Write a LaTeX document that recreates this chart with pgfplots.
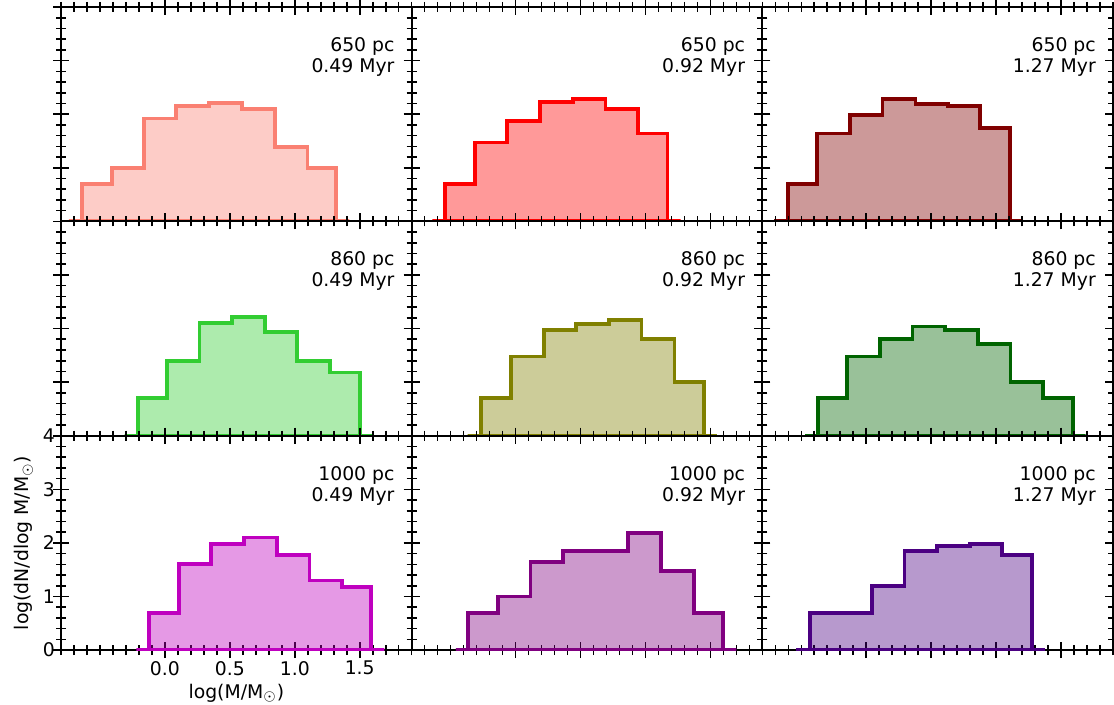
\documentclass[border=0pt]{standalone}
\usepackage{fontspec}
\setmainfont{DejaVu Sans}
\usepackage{pgfplots}
\pgfplotsset{compat=1.18}
\usepgfplotslibrary{groupplots}
\usetikzlibrary{calc}

\definecolor{csalmon}{RGB}{250,128,114}
\definecolor{cred}{RGB}{255,0,0}
\definecolor{cdarkred}{RGB}{128,0,0}
\definecolor{clime}{RGB}{50,205,50}
\definecolor{colive}{RGB}{128,128,0}
\definecolor{cdkgreen}{RGB}{0,100,0}
\definecolor{cmag}{RGB}{191,0,191}
\definecolor{cpurple}{RGB}{128,0,128}
\definecolor{cindigo}{RGB}{75,0,130}

\pgfplotsset{
  hist/.style={const plot, draw=#1, fill=#1, fill opacity=0.4, draw opacity=1, line width=1.9pt},
}
\newcommand{\panellabel}[2]{\node[anchor=north east, align=right, inner sep=0pt] at (rel axis cs:0.952,0.86) {#1\\#2};}

\begin{document}
\begin{tikzpicture}[font=\fontsize{9.4}{10.6}\selectfont]
\begin{groupplot}[
  group style={group size=3 by 3, horizontal sep=0pt, vertical sep=0pt},
  scale only axis, width=175.3pt, height=107.17pt,
  xmin=-0.8, xmax=1.9, ymin=0, ymax=4,
  xtick={0,0.5,1,1.5}, minor xtick={-0.8,-0.7,...,1.9},
  ytick={0,1,2,3,4}, minor ytick={0,0.2,...,4},
  xticklabels={}, yticklabels={},
  xtick pos=both, ytick pos=both,
  tick align=center, major tick length=8pt, minor tick length=5pt,
  every tick/.append style={black, line width=0.8pt},
  axis line style={line width=1pt},
  xticklabel style={yshift=2pt},
  yticklabel style={xshift=4.5pt},
]
% 650 pc
\nextgroupplot
\addplot[hist=csalmon] coordinates {(-0.74,0) (-0.636,0.69) (-0.41,0.99) (-0.16,1.92) (0.087,2.16) (0.338,2.21) (0.595,2.10) (0.846,1.39) (1.098,0.99) (1.318,0) (1.42,0)} \closedcycle;
\panellabel{650 pc}{0.49 Myr}
\nextgroupplot
\addplot[hist=cred] coordinates {(-0.64,0) (-0.541,0.69) (-0.315,1.47) (-0.064,1.87) (0.187,2.23) (0.441,2.28) (0.692,2.09) (0.944,1.64) (1.169,0) (1.27,0)} \closedcycle;
\panellabel{650 pc}{0.92 Myr}
\nextgroupplot
\addplot[hist=cdarkred] coordinates {(-0.71,0) (-0.603,0.69) (-0.377,1.64) (-0.126,1.99) (0.125,2.28) (0.379,2.19) (0.628,2.16) (0.876,1.74) (1.107,0) (1.2,0)} \closedcycle;
\panellabel{650 pc}{1.27 Myr}
% 860 pc
\nextgroupplot
\addplot[hist=clime] coordinates {(-0.31,0) (-0.21,0.70) (0.015,1.39) (0.267,2.11) (0.515,2.21) (0.769,1.93) (1.02,1.39) (1.27,1.18) (1.50,0) (1.6,0)} \closedcycle;
\panellabel{860 pc}{0.49 Myr}
\nextgroupplot
\addplot[hist=colive] coordinates {(-0.37,0) (-0.264,0.70) (-0.033,1.48) (0.218,1.98) (0.467,2.09) (0.718,2.16) (0.969,1.81) (1.223,1.00) (1.449,0) (1.55,0)} \closedcycle;
\panellabel{860 pc}{0.92 Myr}
\nextgroupplot
\addplot[hist=cdkgreen] coordinates {(-0.47,0) (-0.372,0.70) (-0.147,1.48) (0.105,1.81) (0.356,2.04) (0.607,1.98) (0.858,1.71) (1.11,1.00) (1.364,0.70) (1.589,0) (1.69,0)} \closedcycle;
\panellabel{860 pc}{1.27 Myr}
% 1000 pc
\nextgroupplot[
  xticklabels={0.0,0.5,1.0,1.5}, yticklabels={0,1,2,3,4},
  xlabel={log(M/M$_\odot$)}, ylabel={log(dN/dlog M/M$_\odot$)},
  xlabel style={at={(axis description cs:0.5,-0.2)}, anchor=center},
  ylabel style={at={(axis description cs:-0.106,0.5)}, anchor=center},
]
\addplot[hist=cmag] coordinates {(-0.22,0) (-0.123,0.70) (0.108,1.60) (0.354,1.98) (0.608,2.10) (0.862,1.78) (1.113,1.30) (1.364,1.18) (1.587,0) (1.69,0)} \closedcycle;
\panellabel{1000 pc}{0.49 Myr}
\nextgroupplot
\addplot[hist=cpurple] coordinates {(-0.46,0) (-0.365,0.70) (-0.137,1.00) (0.115,1.65) (0.364,1.85) (0.868,2.19) (1.117,1.47) (1.372,0.70) (1.597,0) (1.70,0)} \closedcycle;
\panellabel{1000 pc}{0.92 Myr}
\nextgroupplot
\addplot[hist=cindigo] coordinates {(-0.54,0) (-0.436,0.70) (0.043,1.19) (0.295,1.85) (0.545,1.95) (0.797,1.98) (1.048,1.78) (1.274,0) (1.376,0)} \closedcycle;
\panellabel{1000 pc}{1.27 Myr}
\end{groupplot}
\pgfresetboundingbox
\path ($(group c1r1.north west)+(-30.5pt,3.5pt)$) rectangle ($(group c3r3.south east)+(0.5pt,-27pt)$);
\end{tikzpicture}
\end{document}
